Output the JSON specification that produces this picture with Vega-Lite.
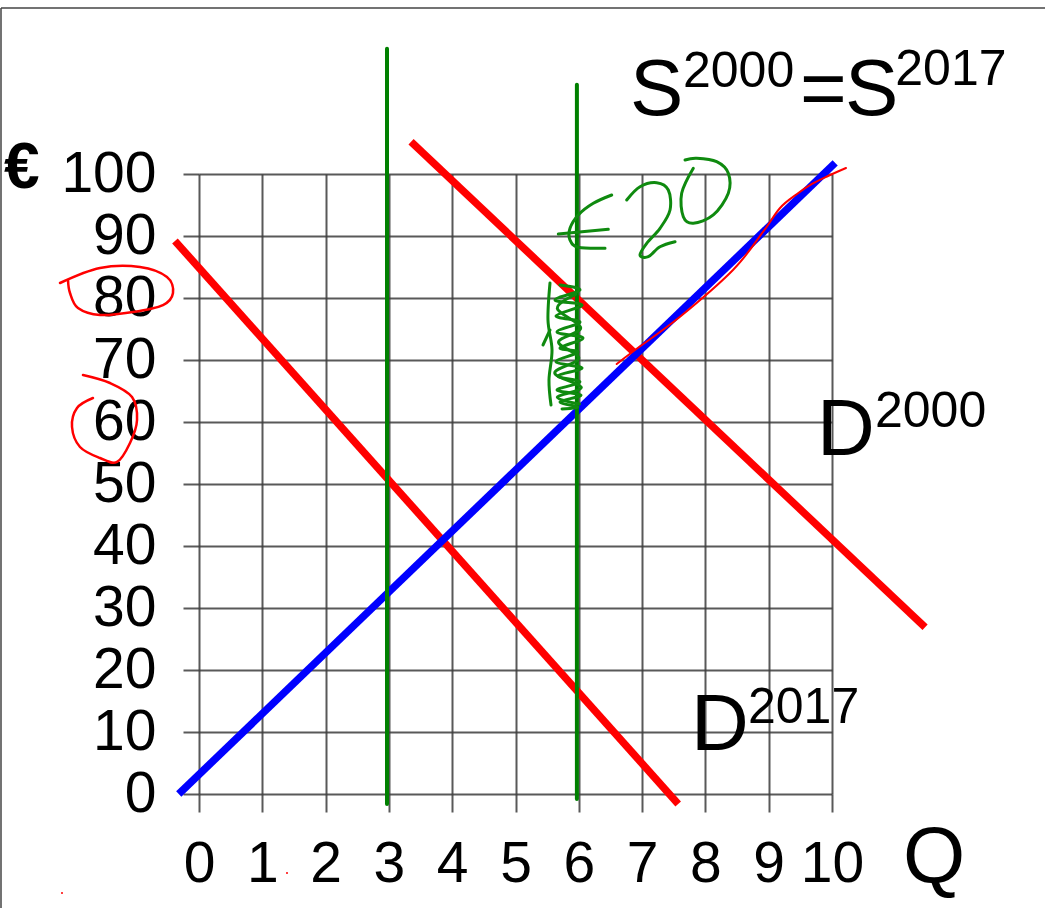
{
  "$schema": "https://vega.github.io/schema/vega-lite/v6.json",
  "width": 633,
  "height": 620,
  "autosize": {"type": "none"},
  "padding": {"left": 199, "top": 174, "right": 213, "bottom": 114},
  "background": "white",
  "config": {"view": {"stroke": null}, "font": "Liberation Sans"},
  "datasets": {
    "curves": [
      {"curve": "S", "q": -0.32, "p": 0},
      {"curve": "S", "q": 10.05, "p": 101.8},
      {"curve": "D2000", "q": 3.35, "p": 105.2},
      {"curve": "D2000", "q": 11.47, "p": 26.9},
      {"curve": "D2017", "q": -0.38, "p": 89.2},
      {"curve": "D2017", "q": 7.57, "p": -1.6},
      {"curve": "Q3", "q": 2.97, "p": 120.2},
      {"curve": "Q3", "q": 2.97, "p": -1.6},
      {"curve": "Q6", "q": 5.97, "p": 114.4},
      {"curve": "Q6", "q": 5.97, "p": -0.8}
    ],
    "frame": [
      {"edge": "top", "q": -3.128, "p": 126.77},
      {"edge": "top", "q": 13.5, "p": 126.77},
      {"edge": "left", "q": -3.128, "p": 126.77},
      {"edge": "left", "q": -3.128, "p": -18.6}
    ],
    "ink": [
      {"pen": "green", "stroke": "euro", "i": 0, "q": 6.520, "p": 96.61},
      {"pen": "green", "stroke": "euro", "i": 1, "q": 6.229, "p": 95.27},
      {"pen": "green", "stroke": "euro", "i": 2, "q": 5.992, "p": 93.39},
      {"pen": "green", "stroke": "euro", "i": 3, "q": 5.861, "p": 91.24},
      {"pen": "green", "stroke": "euro", "i": 4, "q": 5.861, "p": 89.35},
      {"pen": "green", "stroke": "euro", "i": 5, "q": 5.992, "p": 88.18},
      {"pen": "green", "stroke": "euro", "i": 6, "q": 6.414, "p": 88.02},
      {"pen": "green", "stroke": "euroBar", "i": 0, "q": 5.676, "p": 90.32},
      {"pen": "green", "stroke": "euroBar", "i": 1, "q": 6.466, "p": 91.08},
      {"pen": "green", "stroke": "two", "i": 0, "q": 6.757, "p": 95.81},
      {"pen": "green", "stroke": "two", "i": 1, "q": 6.967, "p": 97.95},
      {"pen": "green", "stroke": "two", "i": 2, "q": 7.231, "p": 98.60},
      {"pen": "green", "stroke": "two", "i": 3, "q": 7.414, "p": 97.42},
      {"pen": "green", "stroke": "two", "i": 4, "q": 7.441, "p": 94.19},
      {"pen": "green", "stroke": "two", "i": 5, "q": 7.283, "p": 91.24},
      {"pen": "green", "stroke": "two", "i": 6, "q": 7.073, "p": 88.82},
      {"pen": "green", "stroke": "two", "i": 7, "q": 6.967, "p": 86.94},
      {"pen": "green", "stroke": "two", "i": 8, "q": 7.098, "p": 86.66},
      {"pen": "green", "stroke": "two", "i": 9, "q": 7.283, "p": 88.27},
      {"pen": "green", "stroke": "two", "i": 10, "q": 7.520, "p": 89.08},
      {"pen": "green", "stroke": "zero", "i": 0, "q": 7.809, "p": 100.92},
      {"pen": "green", "stroke": "zero", "i": 1, "q": 7.625, "p": 96.89},
      {"pen": "green", "stroke": "zero", "i": 2, "q": 7.651, "p": 93.11},
      {"pen": "green", "stroke": "zero", "i": 3, "q": 7.809, "p": 92.05},
      {"pen": "green", "stroke": "zero", "i": 4, "q": 8.125, "p": 93.39},
      {"pen": "green", "stroke": "zero", "i": 5, "q": 8.362, "p": 96.89},
      {"pen": "green", "stroke": "zero", "i": 6, "q": 8.362, "p": 100.11},
      {"pen": "green", "stroke": "zero", "i": 7, "q": 8.178, "p": 101.98},
      {"pen": "green", "stroke": "zero", "i": 8, "q": 7.863, "p": 102.53},
      {"pen": "green", "stroke": "zero", "i": 9, "q": 7.678, "p": 102.26},
      {"pen": "green", "stroke": "hatch", "i": 0, "q": 5.703, "p": 82.10},
      {"pen": "green", "stroke": "hatch", "i": 1, "q": 6.019, "p": 81.29},
      {"pen": "green", "stroke": "hatch", "i": 2, "q": 5.624, "p": 79.68},
      {"pen": "green", "stroke": "hatch", "i": 3, "q": 6.051, "p": 78.87},
      {"pen": "green", "stroke": "hatch", "i": 4, "q": 5.640, "p": 77.10},
      {"pen": "green", "stroke": "hatch", "i": 5, "q": 6.019, "p": 76.13},
      {"pen": "green", "stroke": "hatch", "i": 6, "q": 5.656, "p": 74.52},
      {"pen": "green", "stroke": "hatch", "i": 7, "q": 6.066, "p": 73.55},
      {"pen": "green", "stroke": "hatch", "i": 8, "q": 5.703, "p": 71.94},
      {"pen": "green", "stroke": "hatch", "i": 9, "q": 5.987, "p": 71.29},
      {"pen": "green", "stroke": "hatch", "i": 10, "q": 5.640, "p": 69.68},
      {"pen": "green", "stroke": "hatch", "i": 11, "q": 6.051, "p": 68.71},
      {"pen": "green", "stroke": "hatch", "i": 12, "q": 5.671, "p": 67.42},
      {"pen": "green", "stroke": "hatch", "i": 13, "q": 6.019, "p": 66.45},
      {"pen": "green", "stroke": "hatch", "i": 14, "q": 5.656, "p": 65.16},
      {"pen": "green", "stroke": "hatch", "i": 15, "q": 6.035, "p": 64.35},
      {"pen": "green", "stroke": "hatch", "i": 16, "q": 5.703, "p": 63.23},
      {"pen": "green", "stroke": "hatch", "i": 17, "q": 5.987, "p": 62.42},
      {"pen": "green", "stroke": "hatch", "i": 18, "q": 5.735, "p": 62.10},
      {"pen": "green", "stroke": "hatch2", "i": 0, "q": 5.95, "p": 80.6},
      {"pen": "green", "stroke": "hatch2", "i": 1, "q": 5.66, "p": 78.3},
      {"pen": "green", "stroke": "hatch2", "i": 2, "q": 6.03, "p": 75.2},
      {"pen": "green", "stroke": "hatch2", "i": 3, "q": 5.68, "p": 72.9},
      {"pen": "green", "stroke": "hatch2", "i": 4, "q": 6.00, "p": 70.3},
      {"pen": "green", "stroke": "hatch2", "i": 5, "q": 5.62, "p": 67.9},
      {"pen": "green", "stroke": "hatch2", "i": 6, "q": 6.04, "p": 65.6},
      {"pen": "green", "stroke": "hatch2", "i": 7, "q": 5.66, "p": 64.0},
      {"pen": "green", "stroke": "hatch2", "i": 8, "q": 6.01, "p": 62.9},
      {"pen": "green", "stroke": "hatchEdge", "i": 0, "q": 5.545, "p": 82.42},
      {"pen": "green", "stroke": "hatchEdge", "i": 1, "q": 5.513, "p": 76.45},
      {"pen": "green", "stroke": "hatchEdge", "i": 2, "q": 5.577, "p": 71.61},
      {"pen": "green", "stroke": "hatchEdge", "i": 3, "q": 5.529, "p": 66.77},
      {"pen": "green", "stroke": "hatchEdge", "i": 4, "q": 5.561, "p": 62.74},
      {"pen": "green", "stroke": "hatchTick", "i": 0, "q": 5.434, "p": 72.42},
      {"pen": "green", "stroke": "hatchTick", "i": 1, "q": 5.545, "p": 74.84},
      {"pen": "red", "stroke": "ring80", "i": 0, "q": -2.196, "p": 82.42},
      {"pen": "red", "stroke": "ring80", "i": 1, "q": -1.564, "p": 84.84},
      {"pen": "red", "stroke": "ring80", "i": 2, "q": -0.932, "p": 85.00},
      {"pen": "red", "stroke": "ring80", "i": 3, "q": -0.506, "p": 83.39},
      {"pen": "red", "stroke": "ring80", "i": 4, "q": -0.411, "p": 80.81},
      {"pen": "red", "stroke": "ring80", "i": 5, "q": -0.569, "p": 78.87},
      {"pen": "red", "stroke": "ring80", "i": 6, "q": -1.043, "p": 77.74},
      {"pen": "red", "stroke": "ring80", "i": 7, "q": -1.564, "p": 77.26},
      {"pen": "red", "stroke": "ring80", "i": 8, "q": -1.912, "p": 78.39},
      {"pen": "red", "stroke": "ring80", "i": 9, "q": -2.038, "p": 80.81},
      {"pen": "red", "stroke": "ring80", "i": 10, "q": -2.069, "p": 82.90},
      {"pen": "red", "stroke": "ring60", "i": 0, "q": -1.833, "p": 67.58},
      {"pen": "red", "stroke": "ring60", "i": 1, "q": -1.406, "p": 66.29},
      {"pen": "red", "stroke": "ring60", "i": 2, "q": -1.058, "p": 64.03},
      {"pen": "red", "stroke": "ring60", "i": 3, "q": -0.979, "p": 60.32},
      {"pen": "red", "stroke": "ring60", "i": 4, "q": -1.090, "p": 56.61},
      {"pen": "red", "stroke": "ring60", "i": 5, "q": -1.295, "p": 53.55},
      {"pen": "red", "stroke": "ring60", "i": 6, "q": -1.564, "p": 54.19},
      {"pen": "red", "stroke": "ring60", "i": 7, "q": -1.880, "p": 55.97},
      {"pen": "red", "stroke": "ring60", "i": 8, "q": -2.006, "p": 59.19},
      {"pen": "red", "stroke": "ring60", "i": 9, "q": -1.927, "p": 62.26},
      {"pen": "red", "stroke": "ring60", "i": 10, "q": -1.675, "p": 63.87},
      {"pen": "red", "stroke": "trace", "i": 0, "q": 6.599, "p": 69.35},
      {"pen": "red", "stroke": "trace", "i": 1, "q": 6.888, "p": 71.61},
      {"pen": "red", "stroke": "trace", "i": 2, "q": 7.599, "p": 76.98},
      {"pen": "red", "stroke": "trace", "i": 3, "q": 8.436, "p": 84.52},
      {"pen": "red", "stroke": "trace", "i": 4, "q": 8.910, "p": 90.65},
      {"pen": "red", "stroke": "trace", "i": 5, "q": 9.179, "p": 94.52},
      {"pen": "red", "stroke": "trace", "i": 6, "q": 9.447, "p": 96.77},
      {"pen": "red", "stroke": "trace", "i": 7, "q": 9.684, "p": 98.39},
      {"pen": "red", "stroke": "trace", "i": 8, "q": 9.937, "p": 99.68},
      {"pen": "red", "stroke": "trace", "i": 9, "q": 10.221, "p": 100.97}
    ],
    "dots": [
      {"q": -2.164, "p": -15.97},
      {"q": 1.390, "p": -12.74}
    ],
    "labels": [
      {"role": "big", "text": "S", "q": 6.809, "p": 109.52},
      {"role": "big", "text": "=", "q": 9.494, "p": 109.52},
      {"role": "big", "text": "S", "q": 10.205, "p": 109.52},
      {"role": "sup", "text": "2000", "q": 7.646, "p": 114.03},
      {"role": "sup", "text": "2017", "q": 11.0, "p": 114.35},
      {"role": "big", "text": "D", "q": 9.763, "p": 54.68},
      {"role": "sup", "text": "2000", "q": 10.679, "p": 59.19},
      {"role": "big", "text": "D", "q": 7.773, "p": 7.10},
      {"role": "sup", "text": "2017", "q": 8.673, "p": 11.45},
      {"role": "big", "text": "Q", "q": 11.122, "p": -14.35},
      {"role": "unit", "text": "€", "q": -3.08, "p": 97.74}
    ]
  },
  "encoding": {
    "x": {
      "field": "q",
      "type": "quantitative",
      "scale": {"domain": [0, 10], "nice": false, "zero": false},
      "axis": {
        "values": [0, 1, 2, 3, 4, 5, 6, 7, 8, 9, 10],
        "title": null,
        "grid": true,
        "gridColor": "#3c3c3c",
        "gridWidth": 2,
        "gridOpacity": 0.85,
        "domain": false,
        "tickSize": 18,
        "tickColor": "#3c3c3c",
        "tickWidth": 2,
        "tickOpacity": 0.85,
        "labelFont": "Liberation Sans",
        "labelFontSize": 57,
        "labelColor": "#000000",
        "labelPadding": 24,
        "labelFlush": false,
        "labelOverlap": false
      }
    },
    "y": {
      "field": "p",
      "type": "quantitative",
      "scale": {"domain": [0, 100], "nice": false, "zero": false},
      "axis": {
        "values": [0, 10, 20, 30, 40, 50, 60, 70, 80, 90, 100],
        "title": null,
        "grid": true,
        "gridColor": "#3c3c3c",
        "gridWidth": 2,
        "gridOpacity": 0.85,
        "domain": false,
        "tickSize": 16,
        "tickColor": "#3c3c3c",
        "tickWidth": 2,
        "tickOpacity": 0.85,
        "labelFont": "Liberation Sans",
        "labelFontSize": 57,
        "labelColor": "#000000",
        "labelPadding": 27,
        "labelFlush": false,
        "labelOverlap": false
      }
    }
  },
  "layer": [
    {
      "data": {"name": "frame"},
      "mark": {"type": "line", "color": "#444444", "strokeWidth": 1.5},
      "encoding": {"detail": {"field": "edge"}}
    },
    {
      "data": {"name": "curves"},
      "transform": [{"filter": "datum.curve === 'D2000' || datum.curve === 'D2017'"}],
      "mark": {"type": "line", "color": "#ff0000", "strokeWidth": 7.5, "strokeCap": "butt"},
      "encoding": {"detail": {"field": "curve"}}
    },
    {
      "data": {"name": "curves"},
      "transform": [{"filter": "datum.curve === 'S'"}],
      "mark": {"type": "line", "color": "#0000ff", "strokeWidth": 7.5, "strokeCap": "butt"},
      "encoding": {"detail": {"field": "curve"}}
    },
    {
      "data": {"name": "curves"},
      "transform": [{"filter": "datum.curve === 'Q3' || datum.curve === 'Q6'"}],
      "mark": {"type": "line", "color": "#008000", "strokeWidth": 4, "strokeCap": "round"},
      "encoding": {"detail": {"field": "curve"}, "order": {"field": "p"}}
    },
    {
      "data": {"name": "ink"},
      "transform": [{"filter": "datum.pen === 'green'"}],
      "mark": {"type": "line", "color": "#0f8a0f", "strokeWidth": 3, "strokeCap": "round", "strokeJoin": "round", "interpolate": "cardinal"},
      "encoding": {"detail": {"field": "stroke"}, "order": {"field": "i"}}
    },
    {
      "data": {"name": "ink"},
      "transform": [{"filter": "datum.pen === 'red' && datum.stroke !== 'trace'"}],
      "mark": {"type": "line", "color": "#ff0000", "strokeWidth": 2.5, "strokeCap": "round", "strokeJoin": "round", "interpolate": "cardinal"},
      "encoding": {"detail": {"field": "stroke"}, "order": {"field": "i"}}
    },
    {
      "data": {"name": "ink"},
      "transform": [{"filter": "datum.stroke === 'trace'"}],
      "mark": {"type": "line", "color": "#ff0000", "strokeWidth": 2, "strokeCap": "round", "strokeJoin": "round", "interpolate": "cardinal"},
      "encoding": {"order": {"field": "i"}}
    },
    {
      "data": {"name": "dots"},
      "mark": {"type": "point", "filled": true, "color": "#ff0000", "size": 4, "opacity": 1}
    },
    {
      "data": {"name": "labels"},
      "transform": [{"filter": "datum.role === 'big'"}],
      "mark": {"type": "text", "align": "left", "baseline": "alphabetic", "font": "Liberation Sans", "fontSize": 80, "color": "#000000"},
      "encoding": {"text": {"field": "text"}}
    },
    {
      "data": {"name": "labels"},
      "transform": [{"filter": "datum.role === 'sup'"}],
      "mark": {"type": "text", "align": "left", "baseline": "alphabetic", "font": "Liberation Sans", "fontSize": 50, "color": "#000000"},
      "encoding": {"text": {"field": "text"}}
    },
    {
      "data": {"name": "labels"},
      "transform": [{"filter": "datum.role === 'unit'"}],
      "mark": {"type": "text", "align": "left", "baseline": "alphabetic", "font": "Liberation Sans", "fontSize": 64, "fontWeight": "bold", "color": "#000000"},
      "encoding": {"text": {"field": "text"}}
    }
  ]
}
